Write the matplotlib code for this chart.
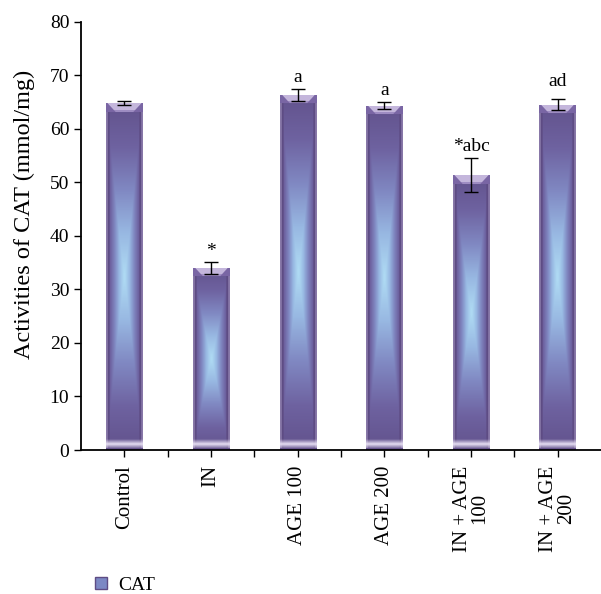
import numpy as np
import matplotlib.pyplot as plt
from matplotlib.colors import LinearSegmentedColormap, to_rgb
from matplotlib.patches import Patch

plt.rcParams['font.family'] = ['Liberation Serif', 'DejaVu Serif']

groups = ['Control', 'IN', 'AGE 100', 'AGE 200', 'IN + AGE\n100', 'IN + AGE\n200']
cat_mean = [64.8, 34.0, 66.3, 64.3, 51.3, 64.5]
cat_err = [0.4, 1.2, 1.1, 0.7, 3.2, 1.0]
marks = ['', '*', 'a', 'a', '*abc', 'ad']
mark_gap = [0, 0.2, 0.6, 0.6, 0.6, 1.8]

# bar fill: light blue centre fading to purple (rectangular gradient)
body_cmap = LinearSegmentedColormap.from_list(
    'body', ['#b0dcf4', '#98b8e2', '#8088c2', '#6e62a0', '#62528c'], N=256)


def bar_image(height_px, ncol=40):
    nrow = max(int(height_px), 10)
    u = np.linspace(-1, 1, ncol)[None, :]
    yy = np.arange(nrow)[:, None] + 0.5
    v = (yy - nrow / 2) / (nrow / 2)
    t = np.maximum(np.abs(u) ** 1.1, np.abs(v))
    img = body_cmap(np.clip(t, 0, 1))[:, :, :3]
    img = np.broadcast_to(img, (nrow, ncol, 3)).copy()
    colpx = (u[0] + 1) / 2 * 37  # bar width in pixels
    # dark side strips with lighter outer line
    side = (colpx < 3) | (colpx > 34)
    img[:, side] = to_rgb('#5e4c84')
    img[:, (colpx < 1) | (colpx > 36)] = to_rgb('#8878a8')
    # top bevel cap
    for r in range(min(9, nrow)):
        for c in range(ncol):
            d = min(colpx[c], 37 - colpx[c])
            if d > r + 1:
                img[r, c] = to_rgb('#c4b6dc') if r < 7 else to_rgb('#9e8cc2')
            else:
                img[r, c] = to_rgb('#7a66a4')
    # light band near the bottom
    for r in range(nrow - 11, nrow - 2):
        k = 1 - abs(r - (nrow - 6.5)) / 5.0
        base = img[r].copy()
        img[r] = base * (1 - k) + np.array(to_rgb('#e6def2')) * k
    img[nrow - 2:, :] = to_rgb('#6a5890')
    return img


fig = plt.figure(figsize=(6.01, 5.94), dpi=100)
ax = fig.add_axes([0.135, 0.2424, 0.865, 0.7212])

x = np.arange(len(groups))
width = 0.42
bars = ax.bar(x, cat_mean, width, color='none', edgecolor='none', zorder=2)
px_per_unit = 428.3 / 80
for b, val in zip(bars, cat_mean):
    img = bar_image(val * px_per_unit)
    im = ax.imshow(img, extent=(b.get_x(), b.get_x() + b.get_width(), 0, val),
                   aspect='auto', interpolation='bilinear', zorder=2)
    im.set_clip_path(b)

ax.errorbar(x, cat_mean, yerr=cat_err, fmt='none', ecolor='black',
            elinewidth=1.0, capsize=5, capthick=1.0, zorder=3)

for xi, m, e, lab, g in zip(x, cat_mean, cat_err, marks, mark_gap):
    if lab:
        ax.text(xi, m + e + g, lab, ha='center', va='bottom', fontsize=14)

ax.set_xlim(-0.5, 5.5)
ax.set_ylim(0, 80)
ax.set_yticks(range(0, 81, 10))
ax.set_xticks(x)
ax.set_xticklabels(groups, rotation=90, fontsize=15, ha='center', va='top',
                   multialignment='center', linespacing=0.9)
ax.set_xticks(np.arange(0.5, 5.5, 1), minor=True)
ax.tick_params(axis='both', which='both', direction='out', length=5,
               width=1, colors='black')
ax.tick_params(axis='y', labelsize=14)
ax.tick_params(axis='x', which='major', pad=6)
ax.spines['top'].set_visible(False)
ax.spines['right'].set_visible(False)
ax.spines['left'].set_linewidth(1.3)
ax.spines['bottom'].set_linewidth(1.3)
ax.set_ylabel('Activities of CAT (mmol/mg)', fontsize=17.5)
ax.yaxis.set_label_coords(-0.088, 0.55)

handle = Patch(facecolor='#7c88c4', edgecolor='#5e4c84', linewidth=1)
fig.legend([handle], ['CAT'], loc='center left', bbox_to_anchor=(0.158, 0.015),
           frameon=False, fontsize=14, handlelength=0.6, handleheight=0.6,
           handletextpad=0.6, borderpad=0, borderaxespad=0)

fig.savefig('out.png', dpi=100)
